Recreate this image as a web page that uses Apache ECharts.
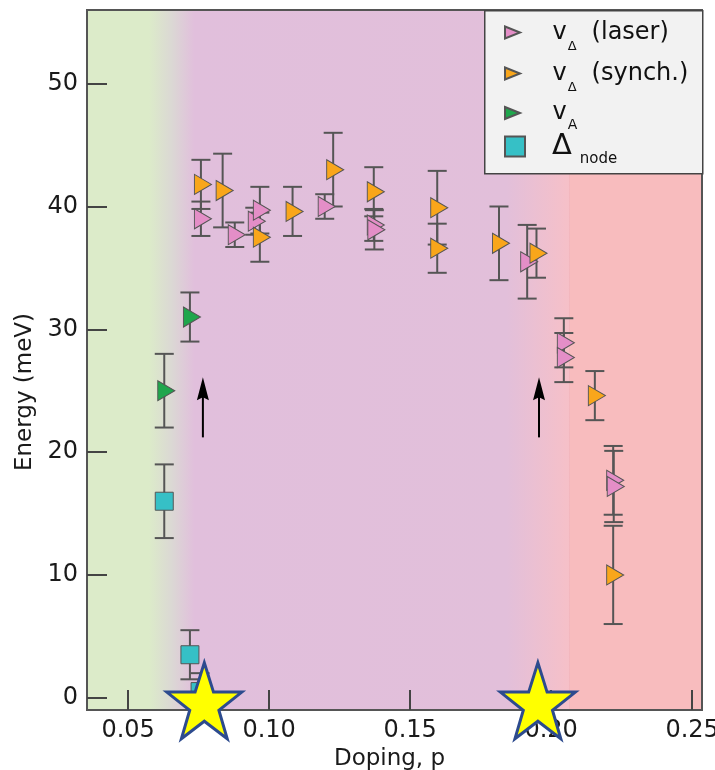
<!DOCTYPE html>
<html><head><meta charset="utf-8">
<script src="https://cdn.jsdelivr.net/npm/echarts@6/dist/echarts.min.js"></script>
<style>html,body{margin:0;padding:0;background:#fff}#c{width:715px;height:770px}</style>
</head><body><div id="c"></div>
<script>
// ---- data: [doping p, energy meV, error] ----
const laser = [
  [0.0758, 39.0, 1.4], [0.0878, 37.7, 1.0], [0.0949, 38.8, 1.1], [0.0967, 39.7, 1.9],
  [0.1197, 40.0, 1.0], [0.1371, 38.5, 1.3], [0.1373, 38.1, 1.6], [0.1915, 35.5, 3.0],
  [0.2045, 28.9, 2.0], [0.2045, 27.7, 2.0], [0.2220, 17.7, 2.8], [0.2222, 17.2, 2.9]
];
const synch = [
  [0.0758, 41.8, 2.0], [0.0835, 41.3, 3.0], [0.0967, 37.5, 2.0], [0.1083, 39.6, 2.0],
  [0.1227, 43.0, 3.0], [0.1371, 41.2, 2.0], [0.1596, 39.9, 3.0], [0.1596, 36.6, 2.0],
  [0.1815, 37.0, 3.0], [0.1948, 36.2, 2.0], [0.2155, 24.6, 2.0], [0.2220, 10.0, 4.0]
];
const vA = [[0.0628, 25.0, 3.0], [0.0719, 31.0, 2.0]];
const node = [[0.0628, 16.0, 3.0], [0.0719, 3.5, 2.0], [0.0755, 0.5, 1.5]];
const arrows = [[0.0765, 21.2, 26.1], [0.1957, 21.2, 26.1]];   // [p, from, to]
const stars = [[0.0770, -0.25], [0.1953, -0.25]];
const xTicks = [0.05, 0.10, 0.15, 0.20, 0.25];
const yTicks = [0, 10, 20, 30, 40, 50];
const xRange = [0.0354, 0.2535];
const yRange = [-1, 56];
// background phase regions (doping boundaries)
const bgBounds = [0.0577, 0.0737, 0.1840, 0.2066];

const FONT = 'DejaVu Sans';
const C_LASER = '#e48ec7', C_SYNCH = '#f9a61b', C_VA = '#1fa64c', C_NODE = '#36c0c6';
const triPath = 'path://M0,0L17,10L0,20Z';
const triLeg = 'path://M0,0L15,6L0,12Z';
const starPath = 'path://M50,0L61.8,35.1L98.1,35.1L68.7,56.8L79.4,91L50,70L20.6,91L31.3,56.8L1.9,35.1L38.2,35.1Z';

const span = xRange[1] - xRange[0];
const f = v => (v - xRange[0]) / span;
const bgGradient = {
  type: 'linear', x: 0, y: 0, x2: 1, y2: 0,
  colorStops: [
    {offset: 0, color: 'rgb(220,235,201)'},
    {offset: f(bgBounds[0]), color: 'rgb(220,235,201)'},
    {offset: (f(bgBounds[0]) + f(bgBounds[1])) / 2, color: 'rgb(219,216,212)'},
    {offset: f(bgBounds[1]), color: 'rgb(225,191,220)'},
    {offset: f(bgBounds[2]), color: 'rgb(226,191,218)'},
    {offset: f(bgBounds[3]) - 0.002, color: 'rgb(246,192,200)'},
    {offset: f(bgBounds[3]) - 0.001, color: 'rgb(241,178,184)'},
    {offset: f(bgBounds[3]), color: 'rgb(248,188,190)'},
    {offset: 1, color: 'rgb(248,188,190)'}
  ]
};

const errData = [].concat(laser, synch, vA, node).map(d => [d[0], d[1] - d[2], d[1] + d[2]]);

function renderErr(params, api) {
  const x = api.value(0), lo = api.value(1), hi = api.value(2);
  const a = api.coord([x, hi]), b = api.coord([x, lo]);
  const w = 9.5, st = {stroke: '#555', lineWidth: 2};
  return {type: 'group', children: [
    {type: 'line', shape: {x1: a[0], y1: a[1], x2: b[0], y2: b[1]}, style: st},
    {type: 'line', shape: {x1: a[0] - w, y1: a[1], x2: a[0] + w, y2: a[1]}, style: st},
    {type: 'line', shape: {x1: b[0] - w, y1: b[1], x2: b[0] + w, y2: b[1]}, style: st}
  ]};
}
function renderArrow(params, api) {
  const x = api.value(0), y0 = api.value(1), y1 = api.value(2);
  const b = api.coord([x, y0]), a = api.coord([x, y1]);
  return {type: 'group', children: [
    {type: 'line', shape: {x1: b[0], y1: b[1], x2: a[0], y2: a[1] + 18}, style: {stroke: '#000', lineWidth: 2}},
    {type: 'polygon', shape: {points: [[a[0], a[1]], [a[0] + 6, a[1] + 23], [a[0], a[1] + 20], [a[0] - 6, a[1] + 23]]}, style: {fill: '#000'}}
  ]};
}
function scatter(name, arr, color, symbol, size, offset) {
  return {
    type: 'scatter', name: name, data: arr.map(d => [d[0], d[1]]),
    symbol: symbol, symbolSize: size, symbolOffset: offset,
    itemStyle: {color: color, borderColor: '#555', borderWidth: 1, opacity: 1},
    z: 3, silent: true
  };
}
const legendNames = {
  laser: '{v|v}{s|Δ}{t|(laser)}',
  synch: '{v|v}{s|Δ}{t|(synch.)}',
  vA: '{v|v}{a|A}',
  node: '{D|Δ}{n|node}'
};
const rich = {
  v: {fontFamily: FONT, fontSize: 24, lineHeight: 38, color: '#111', padding: [0, 0, 0, 20]},
  s: {fontFamily: FONT, fontSize: 13, lineHeight: 38, color: '#111', padding: [28, 0, 0, 1]},
  t: {fontFamily: FONT, fontSize: 24, lineHeight: 38, color: '#111', padding: [0, 0, 0, 15]},
  a: {fontFamily: FONT, fontSize: 14, lineHeight: 38, color: '#111', padding: [24, 0, 0, 1]},
  D: {fontFamily: FONT, fontSize: 29, lineHeight: 38, color: '#111', padding: [0, 0, 0, 17]},
  n: {fontFamily: FONT, fontSize: 15, lineHeight: 38, color: '#111', padding: [26, 0, 0, 8]}
};
const legendCommon = {
  orient: 'vertical', left: 504, itemWidth: 30, itemGap: 0, padding: 0,
  selectedMode: false, z: 6,
  formatter: n => legendNames[n],
  textStyle: {rich: rich}
};

const chart = echarts.init(document.getElementById('c'), null, {renderer: 'canvas'});
chart.setOption({
  animation: false,
  textStyle: {fontFamily: FONT},
  grid: {left: 87, right: 13, top: 10, bottom: 60, show: true,
         outerBoundsMode: 'none', containLabel: false,
         backgroundColor: bgGradient, borderColor: '#555', borderWidth: 2},
  xAxis: {
    type: 'value', min: xRange[0], max: xRange[1],
    name: 'Doping, p', nameLocation: 'middle', nameGap: 28,
    nameTextStyle: {fontFamily: FONT, fontSize: 23, color: '#1a1a1a', padding: [0, 10, 0, 0]},
    axisLine: {show: false, onZero: false}, splitLine: {show: false},
    axisTick: {show: true, inside: true, length: 20, customValues: xTicks, lineStyle: {color: '#444', width: 2}},
    axisLabel: {customValues: xTicks, fontFamily: FONT, fontSize: 24, color: '#1a1a1a', margin: 9,
                formatter: v => v.toFixed(2)}
  },
  yAxis: {
    type: 'value', min: yRange[0], max: yRange[1],
    name: 'Energy (meV)', nameLocation: 'middle', nameGap: 38, nameRotate: 90,
    nameTextStyle: {fontFamily: FONT, fontSize: 23, color: '#1a1a1a', padding: [0, 64, 0, 0]},
    axisLine: {show: false, onZero: false}, splitLine: {show: false},
    axisTick: {show: true, inside: true, length: 20, customValues: yTicks, lineStyle: {color: '#444', width: 2}},
    axisLabel: {customValues: yTicks, fontFamily: FONT, fontSize: 24, color: '#1a1a1a', margin: 9}
  },
  legend: [
    Object.assign({}, legendCommon, {top: 12, itemHeight: 12,
      data: [{name: 'laser', icon: triLeg}, {name: 'synch', icon: triLeg}, {name: 'vA', icon: triLeg}]}),
    Object.assign({}, legendCommon, {top: 126, itemHeight: 20,
      data: [{name: 'node', icon: 'path://M0,0H10V10H0Z'}]})
  ],
  graphic: [{type: 'rect', left: 484, top: 10, z: 5,
             shape: {width: 218, height: 163},
             style: {fill: '#f2f2f2', stroke: '#444', lineWidth: 1.5}}],
  series: [
    {type: 'custom', name: 'err', data: errData, renderItem: renderErr,
     encode: {x: 0, y: [1, 2]}, z: 2, silent: true},
    scatter('laser', laser, C_LASER, triPath, [17, 20], [2, 0]),
    scatter('synch', synch, C_SYNCH, triPath, [17, 20], [2, 0]),
    scatter('vA', vA, C_VA, triPath, [17, 20], [2, 0]),
    scatter('node', node, C_NODE, 'path://M0,0H10V10H0Z', [18, 18], [0, 0]),
    {type: 'custom', name: 'arrows', data: arrows, renderItem: renderArrow,
     encode: {x: 0, y: [1, 2]}, z: 4, silent: true},
    {type: 'scatter', name: 'stars', data: stars, symbol: starPath, symbolSize: [75, 76],
     clip: false, z: 10, silent: true,
     itemStyle: {color: '#ffff00', borderColor: '#2d4b8e', borderWidth: 3, opacity: 1}}
  ]
});
</script></body></html>
